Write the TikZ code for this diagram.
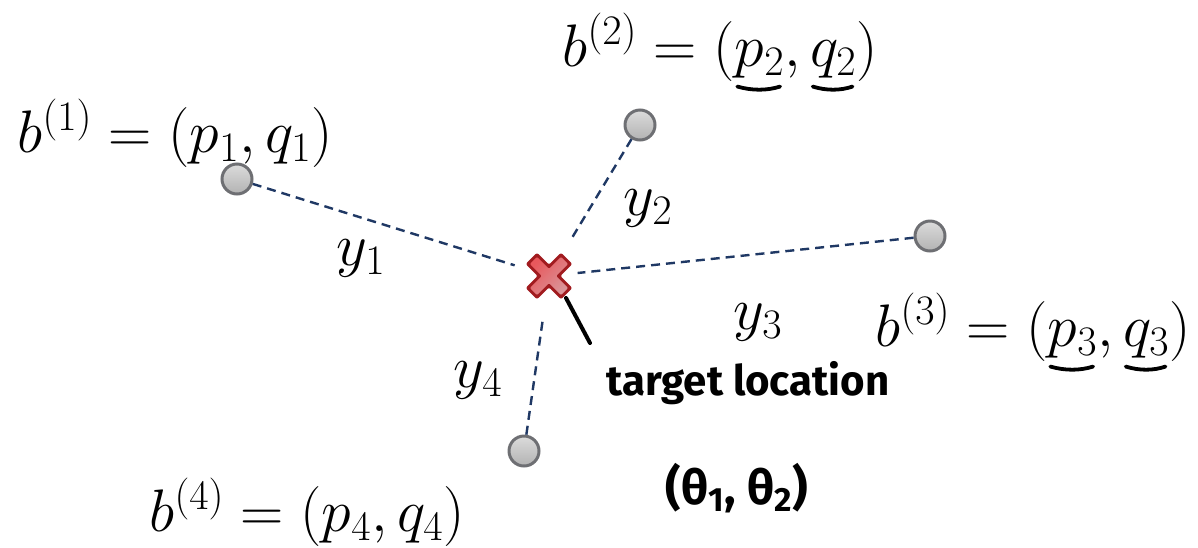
\RequirePackage{fix-cm}
\documentclass[tikz,border=0pt]{standalone}
\usepackage{fontspec}
\newfontfamily\handfont{Fira Sans}
\usetikzlibrary{calc}
\definecolor{navy}{HTML}{1F3864}
\definecolor{crossedge}{HTML}{A11B1F}
\definecolor{crosstop}{HTML}{E8585C}
\definecolor{crossbot}{HTML}{DA9498}
\definecolor{ringgray}{HTML}{6E6F73}
\newcommand\hul[1]{\setbox0=\hbox{$#1$}\rlap{\pgfinterruptpicture\tikz[overlay,baseline=0pt]\draw[black,line width=3.8pt,line cap=round] (0.05\wd0,-0.34em) .. controls (0.35\wd0,-0.41em) and (0.65\wd0,-0.41em) .. (0.92\wd0,-0.34em);\endpgfinterruptpicture}\box0}
\tikzset{
  anchorpt/.style={circle, minimum size=30pt, inner sep=0pt, draw=ringgray, line width=3pt,
    top color=gray!28, bottom color=gray!60},
  distline/.style={navy, line width=2.4pt, dash pattern=on 9pt off 6pt},
  mathlbl/.style={font=\fontsize{60}{70}\selectfont, inner sep=0pt},
  ylbl/.style={font=\fontsize{60}{70}\selectfont, inner sep=0pt},
  handlbl/.style={font=\handfont\fontsize{42}{50}\selectfont\bfseries, inner sep=0pt},
  handstroke/.style={black, line width=4pt, line cap=round},
}
\begin{document}
\begin{tikzpicture}[x=1pt,y=-1pt]
\useasboundingbox (0,0) rectangle (1198,547);
% anchors
\node[anchorpt] (c1) at (237,179) {};
\node[anchorpt] (c2) at (640,125) {};
\node[anchorpt] (c3) at (930,236) {};
\node[anchorpt] (c4) at (524,451) {};
% target cross
\coordinate (t) at (549,276);
\begin{scope}[shift={(t)}, rotate=45]
  \fill[crossedge, rounded corners=2pt] (-8,-25) -- (8,-25) -- (8,-8) -- (25,-8) -- (25,8) -- (8,8) -- (8,25) -- (-8,25) -- (-8,8) -- (-25,8) -- (-25,-8) -- (-8,-8) -- cycle;
  \shade[top color=crosstop, bottom color=crossbot, shading angle=45, rounded corners=1pt] (-5,-22) -- (5,-22) -- (5,-5) -- (22,-5) -- (22,5) -- (5,5) -- (5,22) -- (-5,22) -- (-5,5) -- (-22,5) -- (-22,-5) -- (-5,-5) -- cycle;
\end{scope}
\node[inner sep=0pt, minimum size=44pt] (tx) at (t) {};
% dashed distances
\draw[distline] (c1) -- ($(tx)!0.11!(c1)$) coordinate (e1);
\draw[distline] (c2) -- ($(tx)!0.25!(c2)$) coordinate (e2);
\draw[distline] (c3) -- ($(tx)!0.075!(c3)$) coordinate (e3);
\draw[distline] (c4) -- ($(tx)!0.26!(c4)$) coordinate (e4);
% distance labels
\node[ylbl] (y1) at (361,258) {$y_1$};
\node[ylbl] (y2) at (648,208) {$y_2$};
\node[ylbl] (y3) at (758,322) {$y_3$};
\node[ylbl] (y4) at (478,380) {$y_4$};
% coordinate labels
\node[mathlbl] (b1) at (175,133) {$b^{(1)}=(p_1,q_1)$};
\node[mathlbl] (b2) at (720,47) {$b^{(2)}=(\hul{p_2},\hul{q_2})$};
\node[mathlbl] (b3) at (1033,327) {$b^{(3)}=(\hul{p_3},\hul{q_3})$};
\node[mathlbl] (b4) at (307,512) {$b^{(4)}=(p_4,q_4)$};
% handwritten annotation
\coordinate (h1) at (566,298);
\coordinate (h2) at (590,343);
\draw[handstroke] (h1) -- (h2);
\node[handlbl] (tl) at (748,383) {target location};
\node[handlbl, font=\handfont\fontsize{48}{56}\selectfont\bfseries] (th) at (737,488) {(θ\textsubscript{1}, θ\textsubscript{2})};
\end{tikzpicture}
\end{document}
